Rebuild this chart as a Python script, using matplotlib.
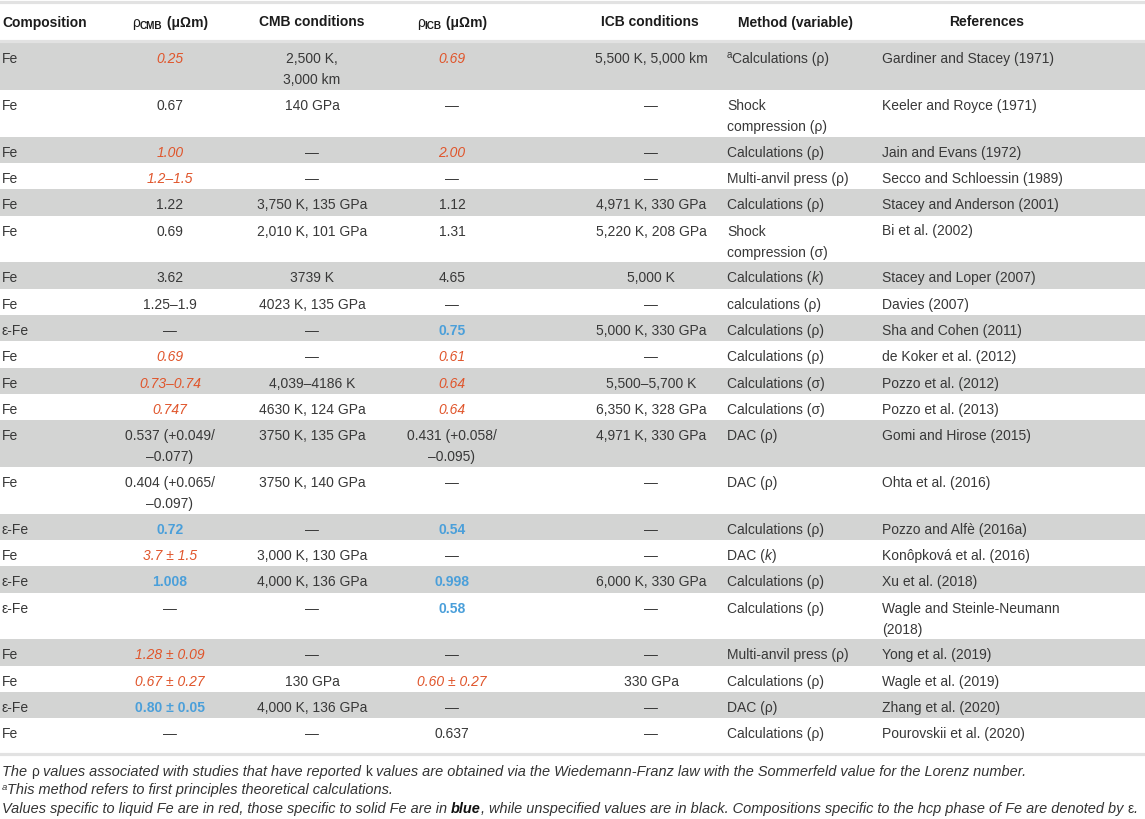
import matplotlib.pyplot as plt

# Table data: electrical resistivity of Fe at core conditions
composition = ["Fe", "Fe", "Fe", "Fe", "Fe", "Fe", "Fe", "Fe", "ε-Fe", "Fe", "Fe",
               "Fe", "Fe", "Fe", "ε-Fe", "Fe", "ε-Fe", "ε-Fe", "Fe", "Fe", "ε-Fe", "Fe"]

rho_cmb = ["0.25", "0.67", "1.00", "1.2–1.5", "1.22", "0.69", "3.62", "1.25–1.9", "—",
           "0.69", "0.73–0.74", "0.747", "0.537 (+0.049/\n–0.077)", "0.404 (+0.065/\n–0.097)",
           "0.72", "3.7 ± 1.5", "1.008", "—", "1.28 ± 0.09", "0.67 ± 0.27", "0.80 ± 0.05", "—"]
# L = liquid Fe, S = solid Fe, "" = unspecified
cmb_phase = ["L", "", "L", "L", "", "", "", "", "", "L", "L",
             "L", "", "", "S", "L", "S", "", "L", "L", "S", ""]

cmb_cond = ["2,500 K,\n3,000 km", "140 GPa", "—", "—", "3,750 K, 135 GPa", "2,010 K, 101 GPa",
            "3739 K", "4023 K, 135 GPa", "—", "—", "4,039–4186 K", "4630 K, 124 GPa",
            "3750 K, 135 GPa", "3750 K, 140 GPa", "—", "3,000 K, 130 GPa", "4,000 K, 136 GPa",
            "—", "—", "130 GPa", "4,000 K, 136 GPa", "—"]

rho_icb = ["0.69", "—", "2.00", "—", "1.12", "1.31", "4.65", "—", "0.75", "0.61", "0.64",
           "0.64", "0.431 (+0.058/\n–0.095)", "—", "0.54", "—", "0.998", "0.58", "—",
           "0.60 ± 0.27", "—", "0.637"]
icb_phase = ["L", "", "L", "", "", "", "", "", "S", "L", "L",
             "L", "", "", "S", "", "S", "S", "", "L", "", ""]

icb_cond = ["5,500 K, 5,000 km", "—", "—", "—", "4,971 K, 330 GPa", "5,220 K, 208 GPa",
            "5,000 K", "—", "5,000 K, 330 GPa", "—", "5,500–5,700 K", "6,350 K, 328 GPa",
            "4,971 K, 330 GPa", "—", "—", "—", "6,000 K, 330 GPa", "—", "—", "330 GPa", "—", "—"]

# ^a = superscript a, _k_ = italic k
method = ["^aCalculations (ρ)", "Shock\ncompression (ρ)", "Calculations (ρ)",
          "Multi-anvil press (ρ)", "Calculations (ρ)", "Shock\ncompression (σ)",
          "Calculations (_k_)", "calculations (ρ)", "Calculations (ρ)", "Calculations (ρ)",
          "Calculations (σ)", "Calculations (σ)", "DAC (ρ)", "DAC (ρ)", "Calculations (ρ)",
          "DAC (_k_)", "Calculations (ρ)", "Calculations (ρ)", "Multi-anvil press (ρ)",
          "Calculations (ρ)", "DAC (ρ)", "Calculations (ρ)"]

references = ["Gardiner and Stacey (1971)", "Keeler and Royce (1971)", "Jain and Evans (1972)",
              "Secco and Schloessin (1989)", "Stacey and Anderson (2001)", "Bi et al. (2002)",
              "Stacey and Loper (2007)", "Davies (2007)", "Sha and Cohen (2011)",
              "de Koker et al. (2012)", "Pozzo et al. (2012)", "Pozzo et al. (2013)",
              "Gomi and Hirose (2015)", "Ohta et al. (2016)", "Pozzo and Alfè (2016a)",
              "Konôpková et al. (2016)", "Xu et al. (2018)", "Wagle and Steinle-Neumann\n(2018)",
              "Yong et al. (2019)", "Wagle et al. (2019)", "Zhang et al. (2020)",
              "Pourovskii et al. (2020)"]

# colours / fonts
FONT = "Liberation Sans"
TXT = "#383838"
HEAD = "#1c1c1c"
RED = "#e0552b"
BLUE = "#4a9fda"
BAND = "#d3d4d3"
RULE = "#e2e2e2"
FS = 10

fig = plt.figure(figsize=(11.45, 8.19), dpi=100)
ax = fig.add_axes([0, 0, 1, 1])
ax.set_xlim(0, 1145)
ax.set_ylim(819, 0)
ax.axis("off")
renderer = fig.canvas.get_renderer()


def measure(s, kw):
    # width incl. spaces: |s| minus ||
    t1 = ax.text(0, 0, "|" + s + "|", **kw)
    t2 = ax.text(0, 0, "||", **kw)
    w = t1.get_window_extent(renderer).width - t2.get_window_extent(renderer).width
    t1.remove()
    t2.remove()
    return w


def rich(x, y, pieces, ha="left"):
    # pieces: (text, kwargs, baseline shift)
    items = []
    for s, kw, dy in pieces:
        k = dict(family=FONT, fontsize=FS, color=TXT)
        k.update(kw)
        items.append((s, k, dy, measure(s, k)))
    total = sum(it[3] for it in items)
    x0 = x - total / 2 if ha == "center" else x
    for s, k, dy, w in items:
        ax.text(x0, y + dy, s, va="baseline", ha="left", **k)
        x0 += w


def parse(line, base):
    pieces = []
    if line.startswith("^a"):
        pieces.append(("a", dict(base, fontsize=7), -5))
        line = line[2:]
    parts = line.split("_")
    for i, p in enumerate(parts):
        if p:
            kw = dict(base)
            if i % 2 == 1:
                kw["style"] = "italic"
            pieces.append((p, kw, 0))
    return pieces


def phase_kw(ph):
    if ph == "L":
        return dict(color=RED, style="italic")
    if ph == "S":
        return dict(color=BLUE, weight="bold")
    return {}


# columns: (x, align)
cols = [(2, "left"), (170, "center"), (312, "center"), (452, "center"),
        (651, "center"), (727, "left"), (882, "left")]

# header
ax.axhline(1.5, color=RULE, lw=2.3)
ax.axhline(41, color=RULE, lw=2.3)
hb = 26.5
hkw = dict(weight="bold", color=HEAD)
rich(2, hb, [("Composition", hkw, 0)])
for xc, sub in [(170, "CMB"), (452, "ICB")]:
    rich(xc, hb, [("ρ", dict(color=HEAD), 0),
                  (sub, dict(weight="bold", color=HEAD, fontsize=7.2), 2.5),
                  (" (μΩm)", hkw, 0)], ha="center")
rich(312, hb, [("CMB conditions", hkw, 0)], ha="center")
rich(650, hb, [("ICB conditions", hkw, 0)], ha="center")
rich(795, hb, [("Method (variable)", hkw, 0)], ha="center")
rich(987, hb, [("References", hkw, 0)], ha="center")

# body rows
top = 43
n = len(composition)
for i in range(n):
    row = [composition[i], rho_cmb[i], cmb_cond[i], rho_icb[i], icb_cond[i], method[i], references[i]]
    styles = [{}, phase_kw(cmb_phase[i]), {}, phase_kw(icb_phase[i]), {}, {}, {}]
    nl = max(c.count("\n") + 1 for c in row)
    h = 26.3 + 20.5 * (nl - 1)
    if i % 2 == 0:
        ax.axhspan(top, top + h, color=BAND, lw=0, zorder=0)
    for (xc, al), cell, st in zip(cols, row, styles):
        for j, line in enumerate(cell.split("\n")):
            rich(xc, top + 20 + 21.3 * j, parse(line, st), ha=al)
    top += h

ax.axhline(top + 9.5, color=RULE, lw=2.3)

# footnotes
FN = 10.45
fkw = dict(style="italic", fontsize=FN, color="#333333")
up = dict(fontsize=FN - 0.5, color="#333333")
fb = top + 31
rich(2, fb, [("The ", fkw, 0), ("ρ", up, 0),
             (" values associated with studies that have reported ", fkw, 0), ("k", up, 0),
             (" values are obtained via the Wiedemann-Franz law with the Sommerfeld value for the Lorenz number.", fkw, 0)])
rich(2, fb + 18.8, [("a", dict(fkw, fontsize=6.8), -4.5),
                    ("This method refers to first principles theoretical calculations.", fkw, 0)])
rich(2, fb + 37.6, [("Values specific to liquid Fe are in red, those specific to solid Fe are in ", fkw, 0),
                    ("blue", dict(fkw, weight="bold", color="#111111"), 0),
                    (", while unspecified values are in black. Compositions specific to the hcp phase of Fe are denoted by ", fkw, 0),
                    ("ε", up, 0), (".", fkw, 0)])

plt.savefig("out.png", dpi=100)
